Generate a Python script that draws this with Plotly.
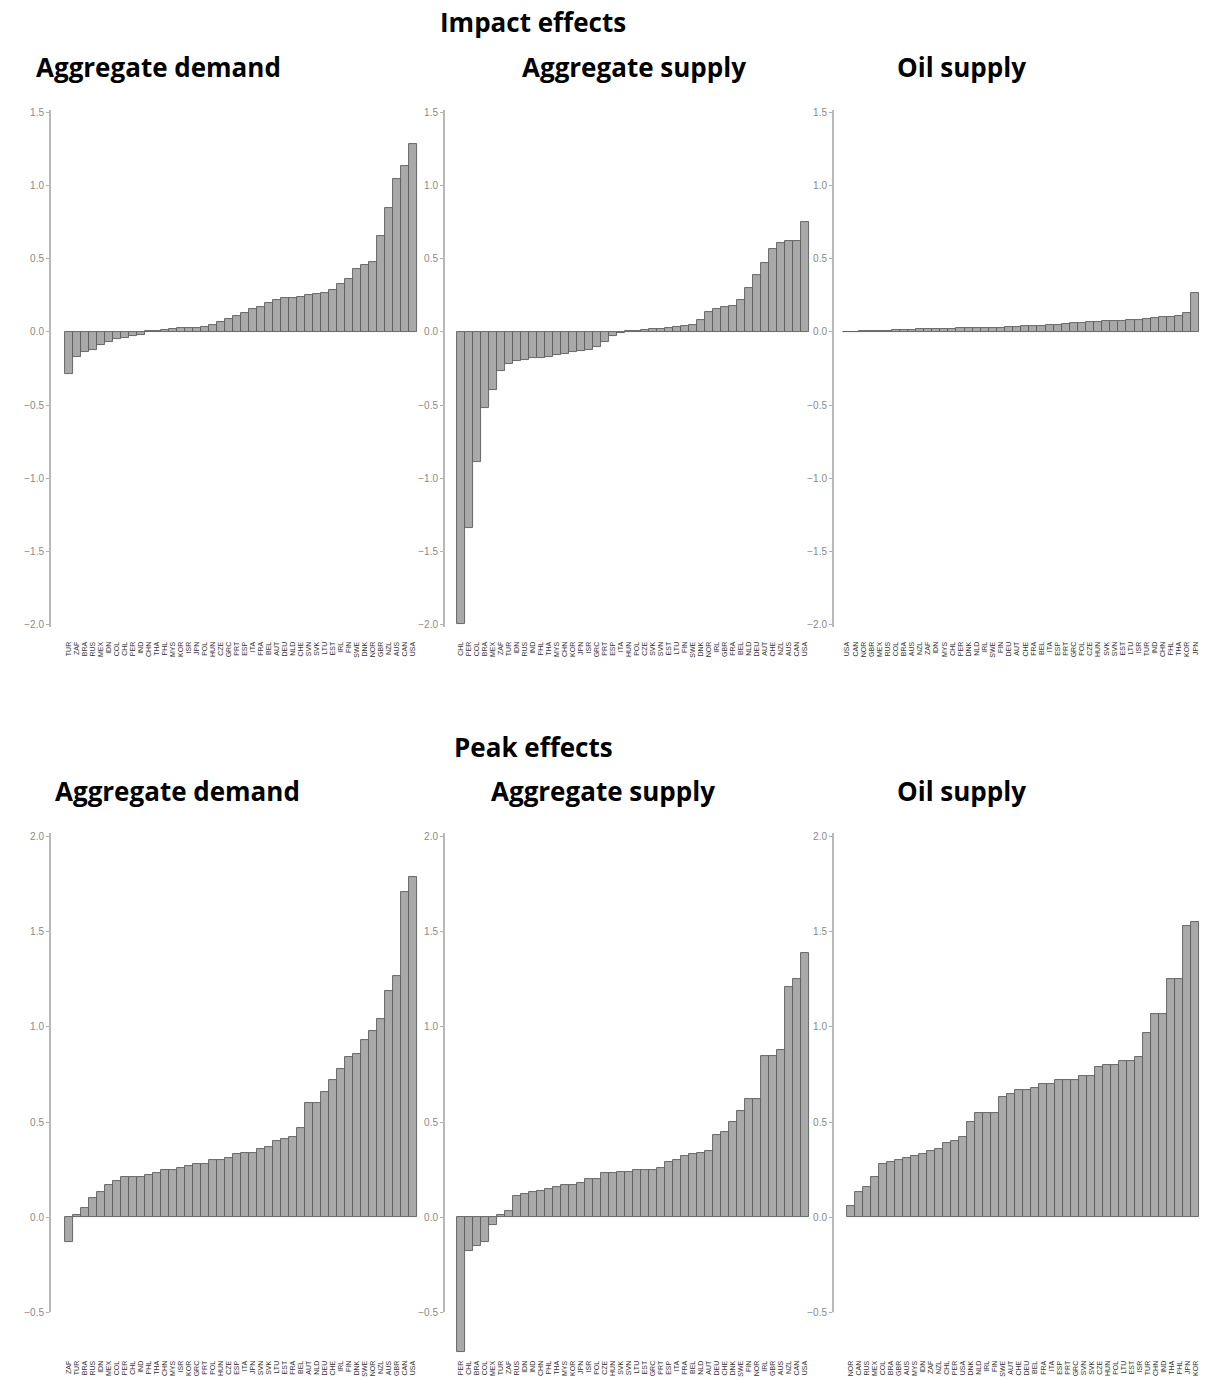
import plotly.graph_objects as go

W, H = 1218, 1380

# ---------------- data ----------------
ad_imp_c = ["TUR","ZAF","BRA","RUS","MEX","IDN","COL","CHL","PER","IND","CHN","THA","PHL","MYS","KOR","ISR",
            "JPN","POL","HUN","CZE","GRC","PRT","ESP","ITA","FRA","BEL","AUT","DEU","NLD","CHE","SVN","SVK",
            "LTU","EST","IRL","FIN","SWE","DNK","NOR","GBR","NZL","AUS","CAN","USA"]
ad_imp_v = [-0.29, -0.17, -0.14, -0.12, -0.09, -0.07, -0.05, -0.04, -0.03, -0.02, 0.005, 0.01, 0.015, 0.02,
            0.025, 0.03, 0.03, 0.035, 0.05, 0.07, 0.09, 0.11, 0.13, 0.16, 0.17, 0.20, 0.22, 0.23, 0.23, 0.24,
            0.25, 0.26, 0.27, 0.29, 0.33, 0.36, 0.43, 0.46, 0.48, 0.66, 0.85, 1.05, 1.14, 1.29]

as_imp_c = ["CHL","PER","COL","BRA","MEX","ZAF","TUR","IDN","RUS","IND","PHL","THA","MYS","CHN","KOR","JPN",
            "ISR","GRC","PRT","ESP","ITA","HUN","POL","CZE","SVK","SVN","EST","LTU","FIN","SWE","DNK","NOR",
            "IRL","GBR","FRA","BEL","NLD","DEU","AUT","CHE","NZL","AUS","CAN","USA"]
as_imp_v = [-2.0, -1.34, -0.89, -0.52, -0.40, -0.27, -0.22, -0.20, -0.19, -0.18, -0.18, -0.17, -0.16, -0.15,
            -0.14, -0.13, -0.12, -0.10, -0.07, -0.03, -0.01, 0.01, 0.01, 0.015, 0.02, 0.02, 0.03, 0.035, 0.04,
            0.05, 0.08, 0.14, 0.16, 0.17, 0.18, 0.22, 0.30, 0.39, 0.47, 0.57, 0.61, 0.62, 0.62, 0.75]

oil_imp_c = ["USA","CAN","NOR","GBR","MEX","RUS","COL","BRA","AUS","NZL","ZAF","IDN","MYS","CHL","PER","DNK",
             "NLD","IRL","SWE","FIN","DEU","AUT","CHE","FRA","BEL","ITA","ESP","PRT","GRC","POL","CZE","HUN",
             "SVK","SVN","EST","LTU","ISR","TUR","IND","CHN","PHL","THA","KOR","JPN"]
oil_imp_v = [0.0, 0.002, 0.004, 0.006, 0.008, 0.01, 0.012, 0.014, 0.016, 0.018, 0.02, 0.021, 0.022, 0.023,
             0.024, 0.025, 0.026, 0.027, 0.028, 0.03, 0.032, 0.035, 0.038, 0.04, 0.042, 0.045, 0.05, 0.055,
             0.06, 0.065, 0.068, 0.07, 0.072, 0.075, 0.078, 0.08, 0.085, 0.09, 0.095, 0.10, 0.105, 0.11,
             0.13, 0.27]

ad_pk_c = ["ZAF","TUR","BRA","RUS","IDN","MEX","COL","PER","CHL","IND","PHL","THA","CHN","MYS","ISR","KOR",
           "GRC","PRT","POL","HUN","CZE","ESP","ITA","JPN","SVN","SVK","LTU","EST","FRA","BEL","AUT","NLD",
           "DEU","CHE","IRL","FIN","DNK","SWE","NOR","NZL","AUS","GBR","CAN","USA"]
ad_pk_v = [-0.13, 0.01, 0.05, 0.10, 0.13, 0.17, 0.19, 0.21, 0.21, 0.21, 0.22, 0.23, 0.25, 0.25, 0.26, 0.27,
           0.28, 0.28, 0.30, 0.30, 0.31, 0.33, 0.34, 0.34, 0.36, 0.37, 0.40, 0.41, 0.42, 0.47, 0.60, 0.60,
           0.66, 0.72, 0.78, 0.84, 0.86, 0.93, 0.98, 1.04, 1.19, 1.27, 1.71, 1.79]

as_pk_c = ["PER","CHL","BRA","COL","MEX","TUR","ZAF","RUS","IDN","IND","CHN","PHL","THA","MYS","KOR","JPN",
           "ISR","POL","CZE","HUN","SVK","SVN","LTU","EST","GRC","PRT","ESP","ITA","FRA","BEL","NLD","AUT",
           "DEU","CHE","DNK","SWE","FIN","NOR","IRL","GBR","AUS","NZL","CAN","USA"]
as_pk_v = [-0.71, -0.18, -0.15, -0.13, -0.04, 0.01, 0.03, 0.11, 0.12, 0.13, 0.14, 0.15, 0.16, 0.17, 0.17,
           0.18, 0.20, 0.20, 0.23, 0.23, 0.24, 0.24, 0.25, 0.25, 0.25, 0.26, 0.29, 0.30, 0.32, 0.33, 0.34,
           0.35, 0.43, 0.45, 0.50, 0.56, 0.62, 0.62, 0.85, 0.85, 0.88, 1.21, 1.25, 1.39]

oil_pk_c = ["NOR","CAN","RUS","MEX","COL","BRA","GBR","AUS","MYS","IDN","ZAF","NZL","CHL","PER","USA","DNK",
            "NLD","IRL","FIN","SWE","AUT","CHE","DEU","BEL","FRA","ITA","ESP","PRT","GRC","SVN","SVK","CZE",
            "HUN","POL","LTU","EST","ISR","TUR","CHN","IND","THA","PHL","JPN","KOR"]
oil_pk_v = [0.06, 0.13, 0.16, 0.21, 0.28, 0.29, 0.30, 0.31, 0.32, 0.33, 0.35, 0.36, 0.39, 0.40, 0.42, 0.50,
            0.55, 0.55, 0.55, 0.63, 0.65, 0.67, 0.67, 0.68, 0.70, 0.70, 0.72, 0.72, 0.72, 0.74, 0.74, 0.79,
            0.80, 0.80, 0.82, 0.82, 0.84, 0.97, 1.07, 1.07, 1.25, 1.25, 1.53, 1.55]

top_ticks = [-2.0, -1.5, -1.0, -0.5, 0.0, 0.5, 1.0, 1.5]
bot_ticks = [-0.5, 0.0, 0.5, 1.0, 1.5, 2.0]

row_titles = ["Impact effects", "Peak effects"]
panel_titles = ["Aggregate demand", "Aggregate supply", "Oil supply",
                "Aggregate demand", "Aggregate supply", "Oil supply"]

# ---------------- layout ----------------
def fx(px):
    return px / W

def fy(py):
    return 1 - py / H

panels = [
    dict(c=ad_imp_c, v=ad_imp_v, xpx=(50, 424), xr=(-2.4, 44.4), row=0),
    dict(c=as_imp_c, v=as_imp_v, xpx=(444, 815), xr=(-2.1, 44.3), row=0),
    dict(c=oil_imp_c, v=oil_imp_v, xpx=(833, 1205), xr=(-1.75, 44.2), row=0),
    dict(c=ad_pk_c, v=ad_pk_v, xpx=(50, 424), xr=(-2.4, 44.4), row=1),
    dict(c=as_pk_c, v=as_pk_v, xpx=(444, 815), xr=(-2.1, 44.3), row=1),
    dict(c=oil_pk_c, v=oil_pk_v, xpx=(833, 1205), xr=(-2.25, 44.2), row=1),
]
rows = [
    dict(ypx=(110, 627), yr=(-2.02, 1.52), ticks=top_ticks, line=(-2.02, 1.52), standoff=11),
    dict(ypx=(833, 1356), yr=(-0.73, 2.02), ticks=bot_ticks, line=(-0.5, 2.02), standoff=1),
]

fig = go.Figure()
layout = dict(width=W, height=H, margin=dict(l=0, r=0, t=0, b=0),
              paper_bgcolor="white", plot_bgcolor="white",
              bargap=0, showlegend=False, shapes=[], annotations=[])

for k, p in enumerate(panels, start=1):
    r = rows[p["row"]]
    xa = "x" if k == 1 else f"x{k}"
    ya = "y" if k == 1 else f"y{k}"
    fig.add_trace(go.Bar(
        x=p["c"], y=p["v"], xaxis=xa, yaxis=ya, width=1.0,
        marker=dict(color="#a9a9a9", line=dict(color="#5c5c5c", width=0.9)),
        hoverinfo="x+y"))
    layout["xaxis" if k == 1 else f"xaxis{k}"] = dict(
        domain=[fx(p["xpx"][0]), fx(p["xpx"][1])], anchor=ya,
        type="category", categoryorder="array", categoryarray=p["c"],
        tickmode="array", tickvals=p["c"], ticktext=p["c"],
        range=list(p["xr"]), tickangle=-90,
        tickfont=dict(family="Liberation Sans", size=7, color="#333333"),
        ticks="outside", ticklen=r["standoff"], tickcolor="rgba(0,0,0,0)",
        showline=False, showgrid=False, zeroline=False, automargin=False, fixedrange=True)
    layout["yaxis" if k == 1 else f"yaxis{k}"] = dict(
        domain=[fy(r["ypx"][1]), fy(r["ypx"][0])], anchor=xa,
        range=list(r["yr"]), tickvals=r["ticks"], tickformat=".1f",
        tickfont=dict(family="Liberation Sans", size=10, color="#8a8a8a"),
        ticks="outside", ticklen=3, tickcolor="#b0b0b0",
        showline=False, showgrid=False, zeroline=False, automargin=False, fixedrange=True)
    layout["shapes"].append(dict(
        type="line", xref=f"{xa} domain", yref=ya, x0=0, x1=0,
        y0=r["line"][0], y1=r["line"][1], line=dict(color="#a0a0a0", width=1.5)))

title_font = dict(family="Open Sans", size=26, color="black")
for text, (px, py) in zip(row_titles, [(533, 22), (533, 747)]):
    layout["annotations"].append(dict(text=f"<b>{text}</b>", x=fx(px), y=fy(py), xref="paper", yref="paper",
                                      showarrow=False, xanchor="center", yanchor="middle", font=title_font))
title_pos = [(158, 67), (634, 67), (961, 67), (177, 791), (603, 791), (961, 791)]
for text, (px, py) in zip(panel_titles, title_pos):
    layout["annotations"].append(dict(text=f"<b>{text}</b>", x=fx(px), y=fy(py), xref="paper", yref="paper",
                                      showarrow=False, xanchor="center", yanchor="middle", font=title_font))

fig.update_layout(**layout)
fig.write_html("out.html")
